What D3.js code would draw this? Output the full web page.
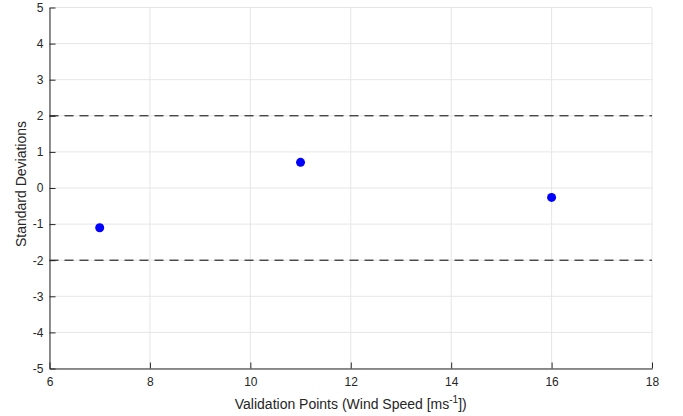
<!DOCTYPE html>
<html>
<head>
<meta charset="utf-8">
<script src="https://cdn.jsdelivr.net/npm/d3@7"></script>
<style>
  body { margin: 0; background: #fff; }
  svg { display: block; font-family: "Liberation Sans", Arial, Helvetica, sans-serif; }
</style>
</head>
<body>
<svg id="chart" width="683" height="416"></svg>
<script>
// validation points: wind speed vs. normalised deviation
const windSpeeds = [7, 11, 16];
const stdDevs = [-1.1, 0.71, -0.26];
const limits = [-2, 2];
const xTicks = [6, 8, 10, 12, 14, 16, 18];
const yTicks = [-5, -4, -3, -2, -1, 0, 1, 2, 3, 4, 5];

const svg = d3.select("#chart");
const margin = { top: 7.5, right: 31, bottom: 47.5, left: 49.5 };
const width = 683 - margin.left - margin.right;
const height = 416 - margin.top - margin.bottom;
const axisColor = "#262626";

const x = d3.scaleLinear().domain([6, 18]).range([0, width]);
const y = d3.scaleLinear().domain([-5, 5]).range([height, 0]);

const g = svg.append("g").attr("transform", `translate(${margin.left},${margin.top})`);

// grid
g.append("g").selectAll("line").data(xTicks).join("line")
  .attr("x1", d => x(d)).attr("x2", d => x(d))
  .attr("y1", 0).attr("y2", height)
  .attr("stroke", "#e6e6e6").attr("stroke-width", 1);
g.append("g").selectAll("line").data(yTicks).join("line")
  .attr("x1", 0).attr("x2", width)
  .attr("y1", d => y(d)).attr("y2", d => y(d))
  .attr("stroke", "#e6e6e6").attr("stroke-width", 1);

// +/- 2 sigma limits
g.append("g").selectAll("line").data(limits).join("line")
  .attr("x1", 0).attr("x2", width)
  .attr("y1", d => y(d)).attr("y2", d => y(d))
  .attr("stroke", "#000").attr("stroke-width", 1)
  .attr("stroke-dasharray", "9,6");

// axes with inward ticks, plain hyphen for negatives
const fmt = d => String(d);
const xAxis = g.append("g").attr("transform", `translate(0,${height})`)
  .call(d3.axisBottom(x).tickValues(xTicks).tickFormat(fmt)
    .tickSizeInner(-6).tickSizeOuter(0).tickPadding(9));
const yAxis = g.append("g")
  .call(d3.axisLeft(y).tickValues(yTicks).tickFormat(fmt)
    .tickSizeInner(-6).tickSizeOuter(0).tickPadding(6));

[xAxis, yAxis].forEach(a => {
  a.select(".domain").attr("stroke", axisColor);
  a.selectAll(".tick line").attr("stroke", axisColor);
  a.selectAll(".tick text").attr("fill", axisColor)
    .style("font-size", "12px").style("font-family", "inherit");
});

// points
g.append("g").selectAll("circle").data(windSpeeds).join("circle")
  .attr("cx", d => x(d))
  .attr("cy", (d, i) => y(stdDevs[i]))
  .attr("r", 4.5)
  .attr("fill", "#0000ff");

// axis labels
const xLabel = svg.append("text")
  .attr("x", margin.left + width / 2).attr("y", 409)
  .attr("text-anchor", "middle").attr("fill", axisColor)
  .style("font-size", "14px");
xLabel.append("tspan").text("Validation Points (Wind Speed [ms");
xLabel.append("tspan").attr("dy", -6).style("font-size", "10px").text("-1");
xLabel.append("tspan").attr("dy", 6).text("])");

svg.append("text")
  .attr("transform", `translate(26,${margin.top + height / 2 - 4}) rotate(-90)`)
  .attr("text-anchor", "middle").attr("fill", axisColor)
  .style("font-size", "14px")
  .text("Standard Deviations");
</script>
</body>
</html>
